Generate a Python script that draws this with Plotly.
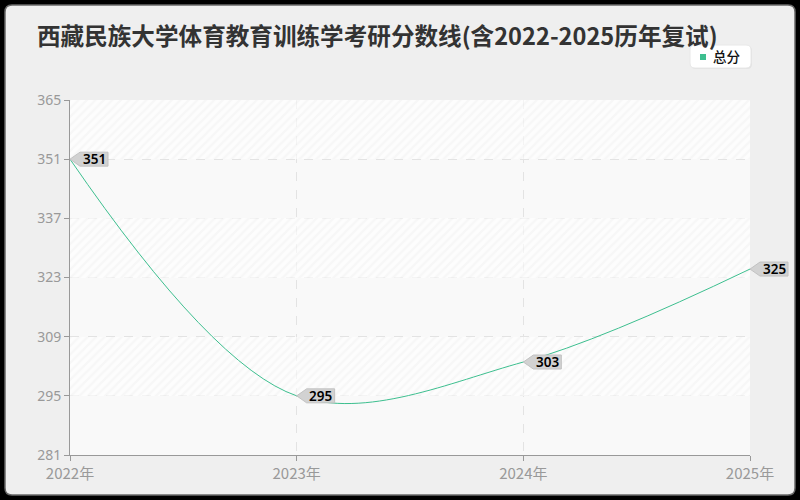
import plotly.graph_objects as go

years = [2022, 2023, 2024, 2025]
year_labels = ["2022年", "2023年", "2024年", "2025年"]
scores = [351, 295, 303, 325]
y_ticks = [281, 295, 309, 323, 337, 351, 365]
series_name = "总分"
title_text = "西藏民族大学体育教育训练学考研分数线(含2022-2025历年复试)"

LINE_COLOR = "#3dbf8f"
L, R, T, B = 70, 50, 100, 45
W, H = 800, 500
PW, PH = W - L - R, H - T - B


def px_x(p):
    return (p - L) / PW


def px_y(p):
    return (H - B - p) / PH


def rounded(x0p, y0p, x1p, y1p, r):
    x0, x1 = px_x(x0p), px_x(x1p)
    yb, yt = px_y(y1p), px_y(y0p)
    rx, ry = r / PW, r / PH
    return (f"M{x0+rx},{yt} L{x1-rx},{yt} Q{x1},{yt} {x1},{yt-ry} L{x1},{yb+ry} "
            f"Q{x1},{yb} {x1-rx},{yb} L{x0+rx},{yb} Q{x0},{yb} {x0},{yb+ry} "
            f"L{x0},{yt-ry} Q{x0},{yt} {x0+rx},{yt} Z")


def rect_path(x0p, y0p, x1p, y1p):
    x0, x1 = px_x(x0p), px_x(x1p)
    yb, yt = px_y(y1p), px_y(y0p)
    return f"M{x0},{yt} L{x1},{yt} L{x1},{yb} L{x0},{yb} Z "


fig = go.Figure()

# alternating hatched bands
band_bases = [y_ticks[5], y_ticks[3], y_ticks[1]]
fig.add_trace(go.Bar(
    x=[(years[0] + years[-1]) / 2] * 3, y=[y_ticks[1] - y_ticks[0]] * 3, base=band_bases,
    width=[years[-1] - years[0]] * 3,
    marker=dict(color="rgba(255,255,255,0.6)", line=dict(width=0),
                pattern=dict(shape="/", fillmode="overlay", fgcolor="rgba(0,0,0,0.05)",
                             size=6, solidity=0.35)),
    hoverinfo="skip", showlegend=False))

fig.add_trace(go.Scatter(
    x=years, y=scores, mode="lines", name=series_name,
    line=dict(color=LINE_COLOR, width=1, shape="spline", smoothing=1.0),
    hoverinfo="skip", showlegend=False))

shapes = []
# black outer frame with rounded inner panel
frame = rect_path(-2, -2, W + 2, H + 2) + rounded(5, 5, 795, 495, 7)
shapes.append(dict(type="path", xref="paper", yref="paper", path=frame, fillrule="evenodd",
                   fillcolor="#000000", line=dict(width=0), layer="below"))
shapes.append(dict(type="path", xref="paper", yref="paper", path=rounded(5, 5, 795, 495, 7),
                   fillcolor="rgba(0,0,0,0)", line=dict(color="#6a6a6a", width=1.5), layer="below"))
# legend box (with soft shadow)
shapes.append(dict(type="path", xref="paper", yref="paper", path=rounded(691, 46, 752, 69, 5),
                   fillcolor="#e2e2e2", line=dict(width=0), layer="below"))
shapes.append(dict(type="path", xref="paper", yref="paper", path=rounded(690, 45, 751, 68, 5),
                   fillcolor="white", line=dict(color="#e8e8e8", width=1), layer="below"))
shapes.append(dict(type="rect", xref="paper", yref="paper",
                   x0=px_x(700), x1=px_x(706), y0=px_y(60), y1=px_y(54),
                   fillcolor=LINE_COLOR, line=dict(width=0)))

annotations = []
xmin, xmax = years[0], years[-1]
ymin, ymax = y_ticks[0], y_ticks[-1]
for xv, yv in zip(years, scores):
    ax = (xv - xmin) / (xmax - xmin)
    ay = (yv - ymin) / (ymax - ymin)
    shapes.append(dict(type="path", xref="paper", yref="paper", xsizemode="pixel", ysizemode="pixel",
                       xanchor=ax, yanchor=ay,
                       path="M0,0 L10,7 L38,7 L38,-7 L10,-7 Z",
                       fillcolor="#d2d2d2", line=dict(color="#c2c2c2", width=1), layer="above"))
    annotations.append(dict(x=ax, y=ay, xref="paper", yref="paper", text=str(yv), showarrow=False,
                            xanchor="center", yanchor="middle", xshift=24, yshift=0,
                            font=dict(family="Noto Sans", size=13.5, color="#000000", weight=600)))

annotations.append(dict(x=px_x(35), y=px_y(35), xref="paper", yref="paper", xanchor="left",
                        yanchor="middle", showarrow=False, text=f"<b>{title_text}</b>",
                        font=dict(family="Noto Sans CJK SC", size=23.6, color="#333333")))
annotations.append(dict(x=px_x(711), y=px_y(56), xref="paper", yref="paper", xanchor="left",
                        yanchor="middle", showarrow=False, text=series_name,
                        font=dict(family="Noto Sans CJK SC", size=13.5, color="#111111", weight=500)))

fig.update_layout(
    width=W, height=H,
    margin=dict(l=L, r=R, t=T, b=B),
    paper_bgcolor="#efefef",
    plot_bgcolor="#f9f9f9",
    barmode="overlay",
    bargap=0,
    shapes=shapes,
    annotations=annotations,
    showlegend=False,
    hovermode=False,
    xaxis=dict(range=[xmin, xmax], tickvals=years, ticktext=year_labels,
               showgrid=True, gridcolor="#e3e3e3", griddash="dash", gridwidth=1,
               showline=True, linecolor="#999999", linewidth=1,
               ticks="outside", ticklen=5, tickcolor="#999999",
               tickfont=dict(family="Noto Sans CJK SC", size=15, color="#999999"),
               zeroline=False, fixedrange=True),
    yaxis=dict(range=[ymin, ymax], tickvals=y_ticks,
               showgrid=True, gridcolor="#e3e3e3", griddash="dash", gridwidth=1,
               showline=True, linecolor="#999999", linewidth=1,
               ticks="outside", ticklen=5, tickcolor="#999999",
               tickfont=dict(family="Noto Sans", size=14, color="#999999"),
               zeroline=False, fixedrange=True),
)

fig.write_html("out.html", config={"displayModeBar": False},
               post_script="document.body.style.margin='0';")
